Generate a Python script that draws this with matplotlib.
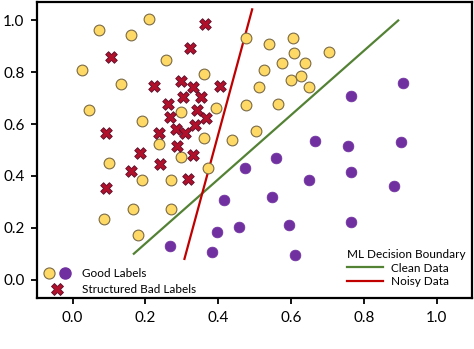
import matplotlib.pyplot as plt
from matplotlib.lines import Line2D
from matplotlib.legend_handler import HandlerTuple

# good labels, class A (yellow)
yellow_x = [0.072, 0.159, 0.210, 0.025, 0.132, 0.255, 0.360, 0.044, 0.190, 0.297,
            0.393, 0.361, 0.238, 0.297, 0.100, 0.373, 0.437, 0.190, 0.270, 0.166,
            0.271, 0.086, 0.180, 0.476, 0.540, 0.604, 0.609, 0.704, 0.575, 0.638,
            0.525, 0.600, 0.628, 0.648, 0.512, 0.475, 0.563, 0.504]
yellow_y = [0.963, 0.943, 1.007, 0.810, 0.754, 0.849, 0.795, 0.653, 0.613, 0.648,
            0.663, 0.547, 0.522, 0.474, 0.450, 0.432, 0.539, 0.383, 0.383, 0.271,
            0.272, 0.234, 0.172, 0.934, 0.908, 0.932, 0.873, 0.880, 0.837, 0.835,
            0.809, 0.770, 0.785, 0.742, 0.742, 0.672, 0.678, 0.573]

# good labels, class B (purple)
purple_x = [0.268, 0.384, 0.396, 0.417, 0.457, 0.907, 0.765, 0.665, 0.757, 0.902,
            0.558, 0.474, 0.765, 0.648, 0.883, 0.548, 0.595, 0.764, 0.611]
purple_y = [0.129, 0.106, 0.183, 0.307, 0.204, 0.760, 0.707, 0.535, 0.515, 0.530,
            0.469, 0.431, 0.416, 0.383, 0.362, 0.320, 0.212, 0.221, 0.097]

# structured bad labels
bad_x = [0.363, 0.321, 0.105, 0.223, 0.297, 0.330, 0.405, 0.304, 0.353, 0.261,
         0.266, 0.341, 0.365, 0.336, 0.091, 0.236, 0.283, 0.309, 0.287, 0.186,
         0.330, 0.241, 0.159, 0.318, 0.091]
bad_y = [0.986, 0.895, 0.858, 0.746, 0.768, 0.742, 0.747, 0.703, 0.705, 0.676,
         0.627, 0.653, 0.624, 0.598, 0.564, 0.564, 0.580, 0.567, 0.517, 0.487,
         0.481, 0.445, 0.420, 0.388, 0.355]

# decision boundaries
clean_x = [0.168, 0.894]
clean_y = [0.100, 1.000]
noisy_x = [0.307, 0.493]
noisy_y = [0.080, 1.043]

YELLOW = "#FFD966"
PURPLE = "#7030A0"
RED = "#B0102A"
GREEN = "#548235"
LINE_RED = "#C00000"

plt.rcParams["font.family"] = ["Lato", "DejaVu Sans"]

fig = plt.figure(figsize=(4.74, 3.49), dpi=100)
ax = fig.add_axes([0.078, 0.146, 0.918, 0.848])

ax.plot(clean_x, clean_y, color=GREEN, lw=1.6, zorder=2)
ax.plot(noisy_x, noisy_y, color=LINE_RED, lw=1.6, zorder=2)
ax.scatter(yellow_x, yellow_y, s=60, color=YELLOW, edgecolor="#7a6a45", lw=0.8, zorder=3)
ax.scatter(purple_x, purple_y, s=60, color=PURPLE, edgecolor=PURPLE, lw=0.5, zorder=3)
ax.scatter(bad_x, bad_y, s=70, marker="X", color=RED, edgecolor="#5a0d2a", lw=0.6, zorder=4)

ax.set_xlim(-0.098, 1.097)
ax.set_ylim(-0.071, 1.071)
ticks = [0.0, 0.2, 0.4, 0.6, 0.8, 1.0]
ax.set_xticks(ticks)
ax.set_yticks(ticks)
ax.set_xticklabels([f"{t:.1f}" for t in ticks])
ax.set_yticklabels([f"{t:.1f}" for t in ticks])
ax.tick_params(labelsize=11, width=1.3, length=4, pad=5)
for sp in ax.spines.values():
    sp.set_linewidth(1.6)

good = (Line2D([], [], ls="", marker="o", ms=8, mfc=YELLOW, mec="#7a6a45", mew=0.8),
        Line2D([], [], ls="", marker="o", ms=8, mfc=PURPLE, mec=PURPLE))
bad = Line2D([], [], ls="", marker="X", ms=9, mfc=RED, mec="#5a0d2a", mew=0.6)
leg1 = ax.legend([good, bad], ["Good Labels", "Structured Bad Labels"],
                 handler_map={tuple: HandlerTuple(ndivide=None, pad=0.4)},
                 loc="lower left", bbox_to_anchor=(0.003, -0.007), borderaxespad=0,
                 frameon=False, fontsize=8.5, handlelength=2.4, handletextpad=0.9,
                 labelspacing=0.45)
ax.add_artist(leg1)

lines = [Line2D([], [], color=GREEN, lw=1.6), Line2D([], [], color=LINE_RED, lw=1.6)]
ax.legend(lines, ["Clean Data", "Noisy Data"], title="ML Decision Boundary",
          loc="upper left", bbox_to_anchor=(0.701, 0.181), borderaxespad=0,
          frameon=False, fontsize=8.5, title_fontsize=8.5, handlelength=3.05,
          handletextpad=0.68, labelspacing=0.2, alignment="left")

fig.savefig("out.png", dpi=100)
